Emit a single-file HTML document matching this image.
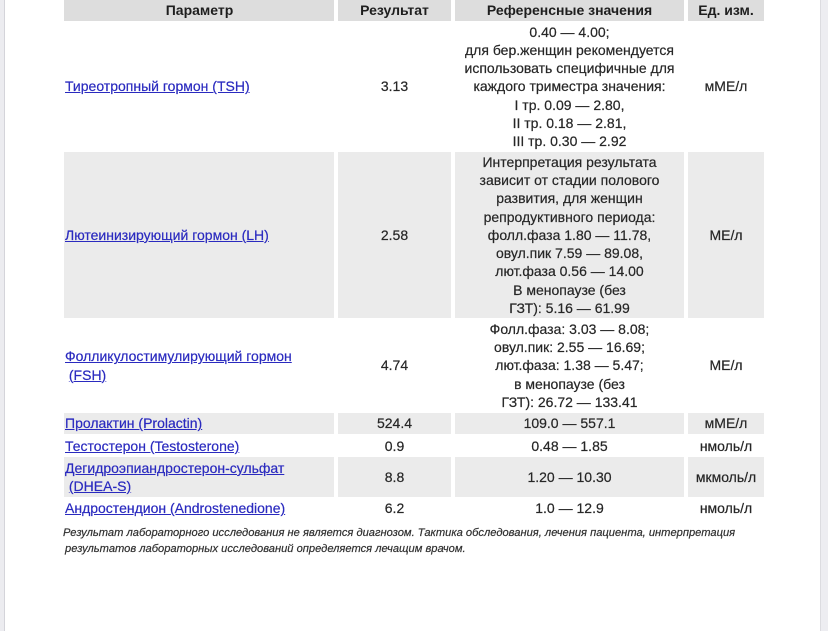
<!DOCTYPE html>
<html>
<head>
<meta charset="utf-8">
<style>
  html,body{margin:0;padding:0;background:#fff;}
  body{width:828px;height:631px;position:relative;overflow:hidden;font-family:"Liberation Sans","Noto Sans CJK SC",sans-serif;color:#262626;}
  .lb{position:absolute;left:0;top:0;width:4px;height:631px;background:#ececf0;border-right:1px solid #d4d4da;}
  .rb{position:absolute;left:820px;top:0;width:8px;height:631px;background:#ededf1;border-left:1px solid #dcdce0;box-sizing:border-box;}
  .c{position:absolute;display:flex;align-items:center;justify-content:center;text-align:center;font-size:14px;line-height:18.2px;white-space:nowrap;box-sizing:border-box;-webkit-text-stroke:0.2px currentColor;}
  .h{background:#dddddd;font-weight:bold;color:#1e1e1e;-webkit-text-stroke:0;}
  .g{background:#ebebeb;}
  .c1{left:64px;width:270px;justify-content:flex-start;text-align:left;padding-left:1px;}
  .c2{left:338px;width:113px;}
  .c3{left:455px;width:229px;}
  .c4{left:688px;width:76px;}
  a{color:#2a2abf;text-decoration:underline;}
  .foot{position:absolute;left:63px;font-size:11.15px;font-style:italic;color:#303030;white-space:nowrap;line-height:16px;-webkit-text-stroke:0.2px currentColor;}
</style>
</head>
<body>
<div class="lb"></div>
<div class="rb"></div>

<!-- header -->
<div class="c h c1" style="top:0;height:21px;justify-content:center;">Параметр</div>
<div class="c h c2" style="top:0;height:21px;">Результат</div>
<div class="c h c3" style="top:0;height:21px;">Референсные значения</div>
<div class="c h c4" style="top:0;height:21px;">Ед. изм.</div>

<!-- row 1 -->
<div class="c c1" style="top:22px;height:129px;"><a>Тиреотропный гормон (TSH)</a></div>
<div class="c c2" style="top:22px;height:129px;">3.13</div>
<div class="c c3" style="top:22px;height:129px;">0.40 — 4.00;<br>для бер.женщин рекомендуется<br>использовать специфичные для<br>каждого триместра значения:<br>I тр. 0.09 — 2.80,<br>II тр. 0.18 — 2.81,<br>III тр. 0.30 — 2.92</div>
<div class="c c4" style="top:22px;height:129px;">мМЕ/л</div>

<!-- row 2 -->
<div class="c g c1" style="top:152px;height:166px;"><a>Лютеинизирующий гормон (LH)</a></div>
<div class="c g c2" style="top:152px;height:166px;">2.58</div>
<div class="c g c3" style="top:152px;height:166px;">Интерпретация результата<br>зависит от стадии полового<br>развития, для женщин<br>репродуктивного периода:<br>фолл.фаза 1.80 — 11.78,<br>овул.пик 7.59 — 89.08,<br>лют.фаза 0.56 — 14.00<br>В менопаузе (без<br>ГЗТ): 5.16 — 61.99</div>
<div class="c g c4" style="top:152px;height:166px;">МЕ/л</div>

<!-- row 3 -->
<div class="c c1" style="top:320px;height:91px;"><div><a>Фолликулостимулирующий гормон</a><br>&nbsp;<a>(FSH)</a></div></div>
<div class="c c2" style="top:320px;height:91px;">4.74</div>
<div class="c c3" style="top:320px;height:91px;">Фолл.фаза: 3.03 — 8.08;<br>овул.пик: 2.55 — 16.69;<br>лют.фаза: 1.38 — 5.47;<br>в менопаузе (без<br>ГЗТ): 26.72 — 133.41</div>
<div class="c c4" style="top:320px;height:91px;">МЕ/л</div>

<!-- row 4 -->
<div class="c g c1" style="top:413px;height:21px;"><a>Пролактин (Prolactin)</a></div>
<div class="c g c2" style="top:413px;height:21px;">524.4</div>
<div class="c g c3" style="top:413px;height:21px;">109.0 — 557.1</div>
<div class="c g c4" style="top:413px;height:21px;">мМЕ/л</div>

<!-- row 5 -->
<div class="c c1" style="top:436px;height:20px;"><a>Тестостерон (Testosterone)</a></div>
<div class="c c2" style="top:436px;height:20px;">0.9</div>
<div class="c c3" style="top:436px;height:20px;">0.48 — 1.85</div>
<div class="c c4" style="top:436px;height:20px;">нмоль/л</div>

<!-- row 6 -->
<div class="c g c1" style="top:457px;height:40px;"><div><a>Дегидроэпиандростерон-сульфат</a><br>&nbsp;<a>(DHEA-S)</a></div></div>
<div class="c g c2" style="top:457px;height:40px;">8.8</div>
<div class="c g c3" style="top:457px;height:40px;">1.20 — 10.30</div>
<div class="c g c4" style="top:457px;height:40px;">мкмоль/л</div>

<!-- row 7 -->
<div class="c c1" style="top:499px;height:19px;"><a>Андростендион (Androstenedione)</a></div>
<div class="c c2" style="top:499px;height:19px;">6.2</div>
<div class="c c3" style="top:499px;height:19px;">1.0 — 12.9</div>
<div class="c c4" style="top:499px;height:19px;">нмоль/л</div>

<div class="foot" style="top:525px;">Результат лабораторного исследования не является диагнозом. Тактика обследования, лечения пациента, интерпретация</div>
<div class="foot" style="top:541px;left:65px;">результатов лабораторных исследований определяется лечащим врачом.</div>
</body>
</html>
